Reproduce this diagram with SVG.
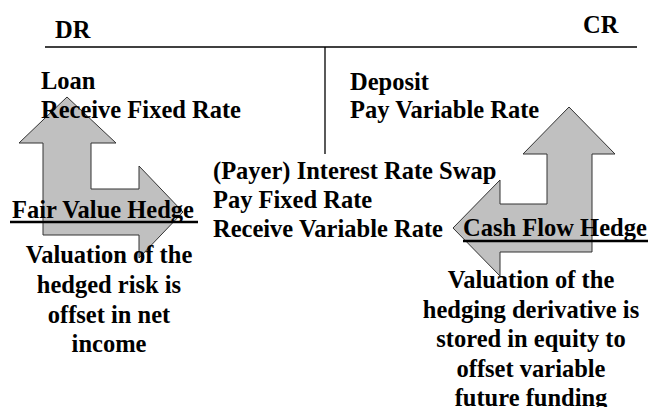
<svg xmlns="http://www.w3.org/2000/svg" width="650" height="407" viewBox="0 0 650 407">
<style>
text { font-family: "Liberation Serif", "Times New Roman", serif; font-weight: bold; font-size: 24.5px; fill: #000; }
.c { text-anchor: middle; }
.arrow { fill: #C0C0C0; stroke: #333; stroke-width: 1; stroke-linejoin: miter; }
.rule { stroke: #000; stroke-width: 1.3; }
.ul { stroke: #000; stroke-width: 2.5; }
</style>
<rect width="650" height="407" fill="#fff"/>
<g id="connectors">
<path class="arrow" d="M67,97 L116,143 L91,143 L91,189 L139,189 L139,166 L183,212 L139,258 L139,235 L43,235 L43,143 L19,143 Z"/>
<path class="arrow" d="M569,107 L615,154 L592,154 L592,252 L500,252 L500,276 L453,228 L500,180 L500,204 L547,204 L547,154 L523,154 Z"/>
</g>
<g id="ledger">
<line class="rule" x1="45" y1="47" x2="637" y2="47"/>
<line class="rule" x1="325" y1="47" x2="325" y2="154"/>
<text x="55" y="38">DR</text>
<text x="583" y="33">CR</text>
</g>
<g id="loan">
<text x="41" y="89">Loan</text>
<text x="41" y="118">Receive Fixed Rate</text>
</g>
<g id="deposit">
<text x="350" y="90">Deposit</text>
<text x="350" y="118">Pay Variable Rate</text>
</g>
<g id="swap">
<text x="213" y="179">(Payer) Interest Rate Swap</text>
<text x="213" y="208">Pay Fixed Rate</text>
<text x="213" y="237">Receive Variable Rate</text>
</g>
<g id="fair-value-hedge">
<text x="12" y="218">Fair Value Hedge</text>
<line class="ul" x1="10" y1="222" x2="198" y2="222"/>
<text class="c" x="109" y="263">Valuation of the</text>
<text class="c" x="109" y="293">hedged risk is</text>
<text class="c" x="109" y="323">offset in net</text>
<text class="c" x="109" y="352">income</text>
</g>
<g id="cash-flow-hedge">
<text x="463" y="236">Cash Flow Hedge</text>
<line class="ul" x1="463" y1="241" x2="648" y2="241"/>
<text class="c" x="531" y="288">Valuation of the</text>
<text class="c" x="531" y="318">hedging derivative is</text>
<text class="c" x="531" y="347">stored in equity to</text>
<text class="c" x="531" y="377">offset variable</text>
<text class="c" x="531" y="406">future funding</text>
</g>
</svg>
